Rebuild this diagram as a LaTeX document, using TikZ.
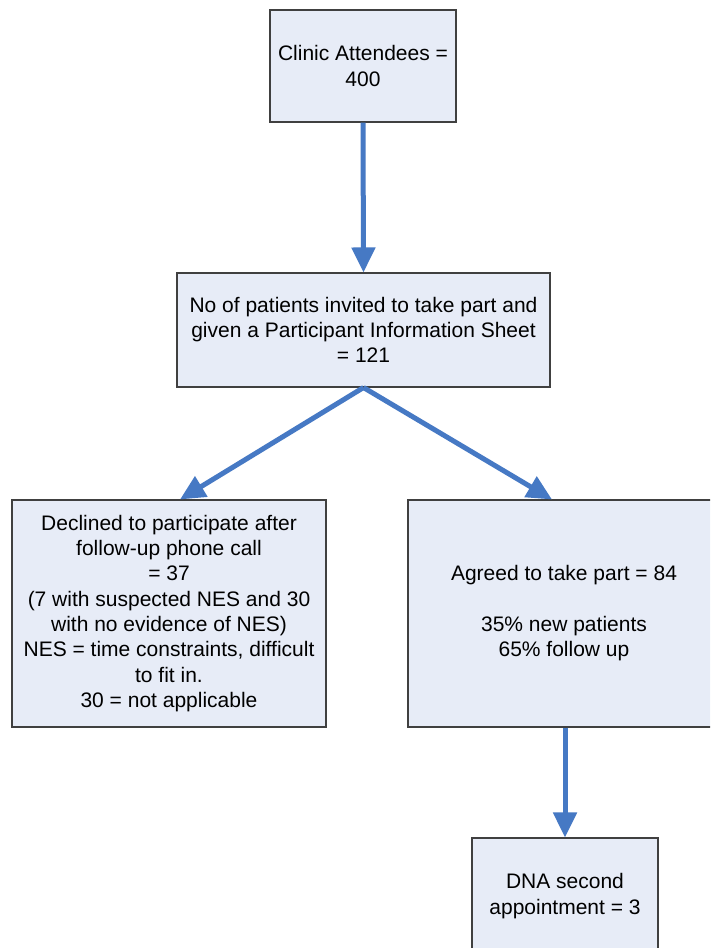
\documentclass[tikz,border=0pt]{standalone}
\usepackage{fontspec}
\setmainfont{Liberation Sans}
\usetikzlibrary{arrows.meta}
\definecolor{boxfill}{RGB}{231,236,247}
\definecolor{boxline}{RGB}{64,64,64}
\definecolor{flowblue}{RGB}{70,121,196}
\tikzset{
  flowbox/.style={draw=boxline, line width=0.8pt, fill=boxfill, rectangle,
    align=center, inner sep=2pt, font=\fontsize{15.75}{19}\selectfont},
  flowarrow/.style={draw=flowblue, line width=3.75pt,
    -{Triangle[width=17.25pt,length=18.75pt]}, color=flowblue}
}
\begin{document}
\begin{tikzpicture}[x=0.75pt,y=-0.75pt]
\useasboundingbox (0,0) rectangle (710,948);
\clip (0,0) rectangle (710,948);
\fill[white] (0,0) rectangle (710,948);

% boxes
\node[flowbox, minimum width=139.5pt, minimum height=84pt] (b1) at (363,66)
  {Clinic Attendees =\\400};
\node[flowbox, minimum width=279.75pt, minimum height=85.5pt] (b2) at (363.5,330)
  {No of patients invited to take part and\\given a Participant Information Sheet\\= 121};
\node[flowbox, minimum width=235.5pt, minimum height=170.25pt] (b3) at (169,613.5)
  {Declined to participate after\\follow-up phone call\\= 37\\(7 with suspected NES and 30\\with no evidence of NES)\\NES = time constraints, difficult\\to fit in.\\30 = not applicable};
\node[flowbox, minimum width=234pt, minimum height=170.25pt] (b4) at (564,613.5)
  {Agreed to take part = 84\\[19pt]35\% new patients\\65\% follow up};
\node[flowbox, minimum width=139.5pt, minimum height=87pt] (b5) at (565,896)
  {DNA second\\appointment = 3};

% connectors
\draw[flowarrow] (b1.south) -- (b2.north);
\draw[flowarrow] (b2.south) -- ([xshift=8.25pt]b3.north);
\draw[flowarrow] (b2.south) -- ([xshift=-9pt]b4.north);
\draw[flowarrow] ([xshift=0.75pt]b4.south) -- (b5.north);
\end{tikzpicture}
\end{document}
